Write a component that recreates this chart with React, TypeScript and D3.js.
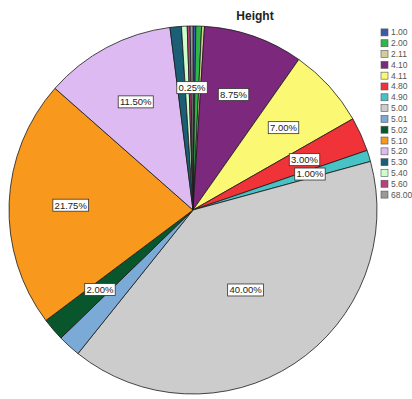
import React, { useEffect, useRef } from "react";
import * as d3 from "d3";

// Height categories in legend order, with their share of cases (%)
const categories = ["1.00", "2.00", "2.11", "4.10", "4.11", "4.80", "4.90", "5.00", "5.01", "5.02", "5.10", "5.20", "5.30", "5.40", "5.60", "68.00"];
const percents = [0.25, 0.5, 0.25, 8.75, 7.0, 3.0, 1.0, 40.0, 2.0, 2.0, 21.75, 11.5, 1.0, 0.5, 0.25, 0.25];
const colors = ["#3E58AC", "#2EB848", "#D3CE97", "#7C287D", "#FBF873", "#EF3338", "#48C2C5", "#CCCCCC", "#7AAAD5", "#0A562C", "#F8981D", "#DDBAF1", "#1A5F76", "#CCFFCC", "#BB3F7F", "#999999"];
// Categories whose percentage label is printed on the pie
const labelled = ["4.10", "4.11", "4.80", "4.90", "5.00", "5.02", "5.10", "5.20", "68.00"];

const W = 412;
const H = 399;

export default function App() {
  const ref = useRef<SVGSVGElement | null>(null);

  useEffect(() => {
    const svg = d3.select(ref.current);
    svg.selectAll("*").remove();

    const cx = 193;
    const cy = 210;
    const r = 184;
    const font = "Arial, 'Liberation Sans', sans-serif";

    const data = categories.map((c, i) => ({ cat: c, value: percents[i], color: colors[i] }));
    const pie = d3.pie<any>().value((d) => d.value).sort(null).startAngle(0).endAngle(2 * Math.PI);
    const arcs = pie(data);
    const arc = d3.arc<any>().innerRadius(0).outerRadius(r);

    const g = svg.append("g").attr("transform", `translate(${cx},${cy})`);
    g.selectAll("path.slice")
      .data(arcs)
      .join("path")
      .attr("class", "slice")
      .attr("d", arc as any)
      .attr("fill", (d: any) => d.data.color)
      .attr("stroke", "#1a1a1a")
      .attr("stroke-width", 0.8)
      .attr("stroke-linejoin", "round");

    // Percentage labels in white boxes
    const labelG = g.append("g");
    arcs
      .filter((a: any) => labelled.includes(a.data.cat))
      .forEach((a: any) => {
        const lr = a.data.value >= 30 ? r * 0.52 : r * 0.665;
        const la = d3.arc<any>().innerRadius(lr).outerRadius(lr);
        const [x, y] = la.centroid(a);
        const grp = labelG.append("g").attr("transform", `translate(${x},${y})`);
        const rect = grp.append("rect");
        const t = grp
          .append("text")
          .attr("text-anchor", "middle")
          .attr("dy", "0.35em")
          .attr("font-family", font)
          .attr("font-size", 9.5)
          .attr("fill", "#222")
          .text(`${a.data.value.toFixed(2)}%`);
        const bb = (t.node() as SVGTextElement).getBBox();
        rect
          .attr("x", -bb.width / 2 - 1.5)
          .attr("y", -6)
          .attr("width", bb.width + 3)
          .attr("height", 12)
          .attr("fill", "#ffffff")
          .attr("stroke", "#333")
          .attr("stroke-width", 0.8);
      });

    // Title
    svg
      .append("text")
      .attr("x", 255)
      .attr("y", 20)
      .attr("text-anchor", "middle")
      .attr("font-family", font)
      .attr("font-weight", "bold")
      .attr("font-size", 12)
      .attr("fill", "#222")
      .text("Height");

    // Legend
    const ly = d3.scaleBand<string>().domain(categories).range([27, 200]).paddingInner(0);
    const leg = svg.append("g");
    const rows = leg
      .selectAll("g")
      .data(data)
      .join("g")
      .attr("transform", (d: any) => `translate(381,${(ly(d.cat) as number) + ly.bandwidth() / 2})`);
    rows
      .append("rect")
      .attr("x", 0)
      .attr("y", -3.5)
      .attr("width", 7)
      .attr("height", 7)
      .attr("fill", (d: any) => d.color)
      .attr("stroke", "#555")
      .attr("stroke-width", 0.6);
    rows
      .append("text")
      .attr("x", 10)
      .attr("dy", "0.35em")
      .attr("font-family", font)
      .attr("font-size", 8.5)
      .attr("fill", "#555")
      .text((d: any) => d.cat);
  }, []);

  return (
    <svg
      ref={ref}
      width={W}
      height={H}
      style={{ position: "absolute", left: 0, top: 0, background: "#ffffff" }}
    />
  );
}
